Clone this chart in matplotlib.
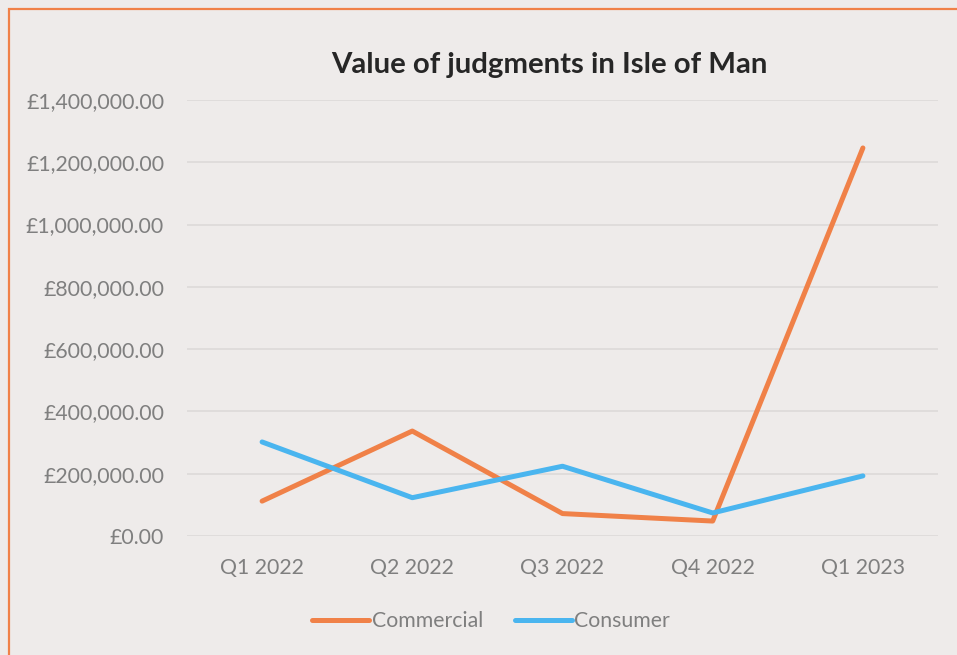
import matplotlib
matplotlib.use("Agg")
import matplotlib.pyplot as plt
from matplotlib.patches import Rectangle
from matplotlib.ticker import FuncFormatter

categories = ["Q1 2022", "Q2 2022", "Q3 2022", "Q4 2022", "Q1 2023"]
commercial = [112000, 337000, 72000, 48000, 1246000]
consumer = [302000, 123000, 224000, 74000, 193000]
yticks = [0, 200000, 400000, 600000, 800000, 1000000, 1200000, 1400000]

BG = "#EEEBEA"
ORANGE = "#F08148"
BLUE = "#4AB5EF"
GRAY = "#7F7F7F"

plt.rcParams['font.family'] = ['Lato', 'DejaVu Sans']

W, H = 957, 655
fig = plt.figure(figsize=(W / 100, H / 100), dpi=100, facecolor=BG)
ax = fig.add_axes([187 / W, (H - 536) / H, (938 - 187) / W, (536 - 100) / H])
ax.set_facecolor(BG)

x = list(range(len(categories)))
ax.plot(x, commercial, color=ORANGE, lw=3.6, solid_capstyle='round', solid_joinstyle='round', label="Commercial")
ax.plot(x, consumer, color=BLUE, lw=3.6, solid_capstyle='round', solid_joinstyle='round', label="Consumer")

ax.set_xlim(-0.5, len(categories) - 0.5)
ax.set_ylim(0, 1400000)
ax.set_xticks(x)
ax.set_xticklabels(categories)
ax.set_yticks(yticks)
ax.yaxis.set_major_formatter(FuncFormatter(lambda v, p: "£{:,.2f}".format(v)))
ax.grid(axis='y', color="#DDDAD9", lw=1.2)
ax.set_axisbelow(True)
for s in ax.spines.values():
    s.set_visible(False)
ax.tick_params(axis='both', length=0, labelsize=15.3, colors=GRAY)
ax.tick_params(axis='y', pad=16.5)
ax.tick_params(axis='x', pad=16)

fig.text(549 / W, (H - 65) / H, "Value of judgments in Isle of Man", ha='center', va='center',
         fontsize=21.2, fontweight='bold', color="#262626")

leg = fig.legend(loc='center', bbox_to_anchor=(491 / W, (H - 621) / H), ncol=2, frameon=False,
                 fontsize=15.3, handlelength=2.7, handletextpad=0.1, columnspacing=1.5)
for t in leg.get_texts():
    t.set_color(GRAY)

fig.patches.append(Rectangle((8.5 / W, -0.1), 1.2, (H - 8.5) / H + 0.1, transform=fig.transFigure,
                             fill=False, edgecolor=ORANGE, lw=1.6))

fig.savefig("out.png", dpi=100, facecolor=BG)
